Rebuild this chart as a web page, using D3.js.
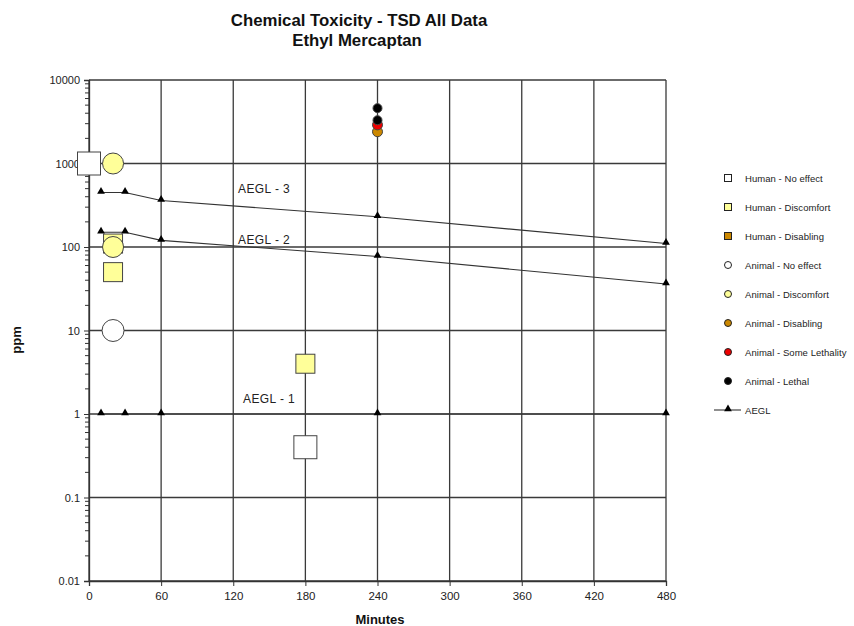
<!DOCTYPE html>
<html>
<head>
<meta charset="utf-8">
<script src="https://cdn.jsdelivr.net/npm/d3@7"></script>
<style>
body { margin: 0; background: #fff; }
text { font-family: "Liberation Sans", Arial, sans-serif; }
</style>
</head>
<body>
<script>
// data, [minutes, ppm]
let humanNoEffect = [[0, 1000], [180, 0.4]];
let humanDiscomfort = [[20, 110], [20, 50], [180, 4]];
let humanDisabling = [];
let animalNoEffect = [[20, 10]];
let animalDiscomfort = [[20, 1000], [20, 100]];
let animalDisabling = [[240, 2400]];
let animalSomeLethality = [[240, 2900]];
let animalLethal = [[240, 4600], [240, 3300]];

let aeglTimes = [10, 30, 60, 240, 480];
let aegl3 = [450, 450, 360, 230, 110];
let aegl2 = [150, 150, 120, 77, 36];
let aegl1 = [1, 1, 1, 1, 1];

let xTicks = [0, 60, 120, 180, 240, 300, 360, 420, 480];
let yTicks = [0.01, 0.1, 1, 10, 100, 1000, 10000];
let yTickLabels = ["0.01", "0.1", "1", "10", "100", "1000", "10000"];

let width = 854;
let height = 626;
let plotLeft = 89, plotRight = 666, plotTop = 80, plotBottom = 581;

let x = d3.scaleLinear().domain([0, 480]).range([plotLeft, plotRight]);
let y = d3.scaleLog().domain([0.01, 10000]).range([plotBottom, plotTop]);

let svg = d3.select("body").append("svg")
    .attr("width", width).attr("height", height);

// title
svg.append("text").attr("x", 359).attr("y", 26).attr("text-anchor", "middle")
    .attr("font-size", 16.8).attr("font-weight", "bold").attr("fill", "#111")
    .text("Chemical Toxicity - TSD All Data");
svg.append("text").attr("x", 357).attr("y", 46).attr("text-anchor", "middle")
    .attr("font-size", 16.8).attr("font-weight", "bold").attr("fill", "#111")
    .text("Ethyl Mercaptan");

let grid = svg.append("g").attr("class", "grid");
grid.selectAll("line.h")
    .data(yTicks)
    .enter()
    .append("line")
        .attr("class", "h")
        .attr("x1", plotLeft).attr("x2", plotRight)
        .attr("y1", function(d){ return y(d); })
        .attr("y2", function(d){ return y(d); })
        .attr("stroke", "#3a3a3a").attr("stroke-width", 1.3);
grid.selectAll("line.v")
    .data(xTicks)
    .enter()
    .append("line")
        .attr("class", "v")
        .attr("x1", function(d){ return x(d); })
        .attr("x2", function(d){ return x(d); })
        .attr("y1", plotTop).attr("y2", plotBottom)
        .attr("stroke", "#3a3a3a").attr("stroke-width", 1.3);

// y axis
let yAxis = d3.axisLeft(y).tickValues(yTicks).tickSize(5)
    .tickFormat(function(d, i){ return yTickLabels[i]; });
let yg = svg.append("g").attr("transform", "translate(" + plotLeft + ",0)").call(yAxis);
yg.select(".domain").attr("stroke", "#333").attr("stroke-width", 1.3);
yg.selectAll(".tick line").attr("stroke", "#333");
yg.selectAll(".tick text").attr("font-size", 11).attr("fill", "#222")
    .attr("font-family", "Liberation Sans, Arial, sans-serif").attr("x", -9);

let minor = [];
for(let e = -2; e < 4; e++){
    for(let m = 2; m < 10; m++){
        minor.push(m * Math.pow(10, e));
    }
}
svg.append("g").selectAll("line")
    .data(minor)
    .enter()
    .append("line")
        .attr("x1", plotLeft - 4).attr("x2", plotLeft)
        .attr("y1", function(d){ return y(d); })
        .attr("y2", function(d){ return y(d); })
        .attr("stroke", "#333").attr("stroke-width", 1);

// x axis
let xAxis = d3.axisBottom(x).tickValues(xTicks).tickSize(5);
let xg = svg.append("g").attr("transform", "translate(0," + plotBottom + ")").call(xAxis);
xg.select(".domain").attr("stroke", "#333").attr("stroke-width", 1.3);
xg.selectAll(".tick line").attr("stroke", "#333");
xg.selectAll(".tick text").attr("font-size", 11.5).attr("fill", "#222")
    .attr("font-family", "Liberation Sans, Arial, sans-serif").attr("y", 11);

svg.append("text").attr("x", 380).attr("y", 624).attr("text-anchor", "middle")
    .attr("font-size", 13).attr("font-weight", "bold").attr("fill", "#111")
    .text("Minutes");
svg.append("text").attr("transform", "translate(21,340) rotate(-90)")
    .attr("text-anchor", "middle")
    .attr("font-size", 13).attr("font-weight", "bold").attr("fill", "#111")
    .text("ppm");

// AEGL lines
let line = d3.line()
    .x(function(d){ return x(d[0]); })
    .y(function(d){ return y(d[1]); });
let tri = d3.symbol().type(d3.symbolTriangle).size(26);
let aeglSets = [aegl3, aegl2, aegl1];
let chartGroup = svg.append("g").attr("class", "chartGroup");

function squares(data, size, fill){
    chartGroup.append("g").selectAll("rect")
        .data(data)
        .enter()
        .append("rect")
            .attr("x", function(d){ return x(d[0]) - size/2; })
            .attr("y", function(d){ return y(d[1]) - size/2; })
            .attr("width", size).attr("height", size)
            .attr("fill", fill).attr("stroke", "#444").attr("stroke-width", 1);
}
function circles(data, r, fill){
    chartGroup.append("g").selectAll("circle")
        .data(data)
        .enter()
        .append("circle")
            .attr("cx", function(d){ return x(d[0]); })
            .attr("cy", function(d){ return y(d[1]); })
            .attr("r", r)
            .attr("fill", fill).attr("stroke", "#444").attr("stroke-width", 1);
}

squares(humanNoEffect, 23, "#ffffff");
squares(humanDiscomfort, 19, "#ffff99");
squares(humanDisabling, 19, "#cc8800");
circles(animalNoEffect, 11, "#ffffff");
circles(animalDiscomfort, 10.5, "#ffff99");
circles(animalDisabling, 5, "#cc8800");
circles(animalSomeLethality, 5, "#ee0000");
circles(animalLethal, 4.5, "#000000");

aeglSets.forEach(function(vals){
    let pts = aeglTimes.map(function(t, i){ return [t, vals[i]]; });
    chartGroup.append("path")
        .attr("d", line(pts))
        .attr("fill", "none").attr("stroke", "#333").attr("stroke-width", 1.1);
    chartGroup.append("g").selectAll("path")
        .data(pts)
        .enter()
        .append("path")
            .attr("d", tri)
            .attr("transform", function(d){ return "translate(" + x(d[0]) + "," + (y(d[1]) - 1) + ")"; })
            .attr("fill", "#000");
});

let aeglLabels = [["AEGL - 3", 238, 193], ["AEGL - 2", 238, 244], ["AEGL - 1", 243, 403]];
svg.append("g").selectAll("text")
    .data(aeglLabels)
    .enter()
    .append("text")
        .attr("x", function(d){ return d[1]; })
        .attr("y", function(d){ return d[2]; })
        .attr("font-size", 12).attr("letter-spacing", 0.4).attr("fill", "#222")
        .text(function(d){ return d[0]; });

// legend
let legendItems = [
    {name: "Human - No effect", shape: "square", fill: "#ffffff"},
    {name: "Human - Discomfort", shape: "square", fill: "#ffff99"},
    {name: "Human - Disabling", shape: "square", fill: "#cc8800"},
    {name: "Animal - No effect", shape: "circle", fill: "#ffffff"},
    {name: "Animal - Discomfort", shape: "circle", fill: "#ffff99"},
    {name: "Animal - Disabling", shape: "circle", fill: "#cc8800"},
    {name: "Animal - Some Lethality", shape: "circle", fill: "#ee0000"},
    {name: "Animal - Lethal", shape: "circle", fill: "#000000"},
    {name: "AEGL", shape: "line", fill: "#000"}
];
let legend = svg.append("g").attr("class", "legend");
let rows = legend.selectAll("g")
    .data(legendItems)
    .enter()
    .append("g")
        .attr("transform", function(d, i){ return "translate(728," + (178 + i * 29) + ")"; });
rows.each(function(d){
    let g = d3.select(this);
    if(d.shape == "square"){
        g.append("rect").attr("x", -3.5).attr("y", -3.5).attr("width", 7).attr("height", 7)
            .attr("fill", d.fill).attr("stroke", "#222").attr("stroke-width", 1);
    }else if(d.shape == "circle"){
        g.append("circle").attr("r", 3.5)
            .attr("fill", d.fill).attr("stroke", "#222").attr("stroke-width", 1);
    }else{
        g.append("line").attr("x1", -14).attr("x2", 13)
            .attr("stroke", "#333").attr("stroke-width", 1.1);
        g.append("path").attr("d", tri).attr("transform", "translate(0,-1)").attr("fill", "#000");
    }
    g.append("text").attr("x", 17).attr("y", 3.5)
        .attr("font-size", 9.5).attr("letter-spacing", 0.05).attr("fill", "#222")
        .text(d.name);
});
</script>
</body>
</html>
